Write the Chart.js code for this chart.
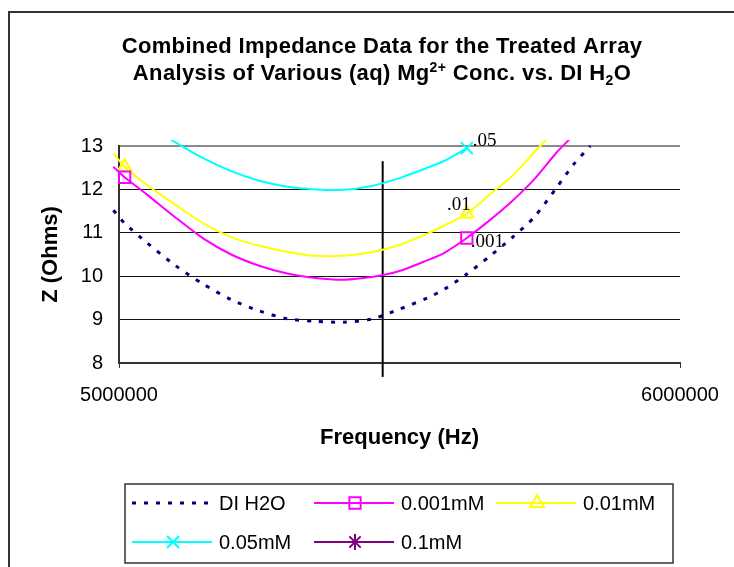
<!DOCTYPE html>
<html>
<head>
<meta charset="utf-8">
<title>Combined Impedance Data</title>
<script src="https://cdn.jsdelivr.net/npm/chart.js@4.4.1/dist/chart.umd.min.js"></script>
<style>
    html, body { margin: 0; padding: 0; background: #fff; }
    #wrap { width: 734px; height: 567px; }
</style>
</head>
<body>
<div id="wrap"><canvas id="impedanceChart" width="734" height="567"></canvas></div>
<script>
// Frequencies (Hz) shared by every series
const freqHz = [4990000, 5010000, 5050000, 5100000, 5150000, 5200000, 5250000, 5300000, 5350000, 5400000, 5450000,
    5500000, 5550000, 5580000, 5620000, 5660000, 5700000, 5740000, 5780000, 5810000, 5840000];

// Impedance Z (Ohms)
const diH2O = [11.52, 11.22, 10.77, 10.25, 9.82, 9.46, 9.20, 9.02, 8.96, 8.94, 9.01,
    9.24, 9.50, 9.70, 10.05, 10.45, 10.88, 11.36, 12.04, 12.57, 13.0];
const mM_0_001 = [12.52, 12.28, 11.88, 11.36, 10.87, 10.50, 10.24, 10.06, 9.96, 9.92, 9.98,
    10.12, 10.37, 10.54, 10.88, 11.28, 11.72, 12.23, 12.85, 13.25, 13.7];
const mM_0_01 = [12.83, 12.52, 12.10, 11.65, 11.22, 10.90, 10.70, 10.56, 10.47, 10.47, 10.55,
    10.72, 10.98, 11.17, 11.44, 11.87, 12.30, 12.85, 13.4, 13.85, 14.3];
const mM_0_05 = [14.0, 13.85, 13.5, 13.09, 12.72, 12.42, 12.20, 12.06, 12.00, 11.99, 12.08,
    12.26, 12.50, 12.66, 12.95, null, null, null, null, null, null];
// 0.1 mM sits above the plotted range
const mM_0_1 = [15.4, 15.2, 14.9, 14.5, 14.2, 13.95, 13.75, 13.6, 13.5, 13.48, 13.55,
    13.7, 13.95, 14.1, 14.4, 14.75, 15.1, 15.5, 15.9, 16.2, 16.5];

const seriesLabels = ['DI H2O', '0.001mM', '0.01mM', '0.05mM', '0.1mM'];

// vertical reference line
const refLineX = [5470000, 5470000];
const refLineY = [7.68, 12.65];

// text labels next to the marked points
const pointNotes = ['.001', '.01', '.05'];

const xTicks = [5000000, 6000000];
const yMin = 8, yMax = 13;

function toPoints(values) {
    return freqHz.map((f, i) => ({ x: f, y: values[i] }));
}

function markerRadii(indices, r) {
    return freqHz.map((f, i) => indices.includes(i) ? r : 0);
}

document.addEventListener('DOMContentLoaded', function() {
    const ctx = document.getElementById('impedanceChart').getContext('2d');
    const clipArea = { left: 8, top: 6, right: 0, bottom: 0 };

    const datasets = [
        {
            label: seriesLabels[0],
            data: toPoints(diH2O),
            borderColor: '#000080',
            borderWidth: 3,
            borderDash: [4, 8],
            pointRadius: 0,
            legendMarker: null,
        },
        {
            label: seriesLabels[1],
            data: toPoints(mM_0_001),
            borderColor: '#ff00ff',
            borderWidth: 2,
            pointStyle: 'rect',
            pointRadius: markerRadii([1, 14], 8),
            pointBorderWidth: 2,
            legendMarker: 'rect', legendRadius: 8,
            note: pointNotes[0], noteAt: 14, noteDx: 4, noteDy: 9, noteAlign: 'left',
        },
        {
            label: seriesLabels[2],
            data: toPoints(mM_0_01),
            borderColor: '#ffff00',
            borderWidth: 2,
            pointStyle: 'triangle',
            pointRadius: markerRadii([1, 14], 7.5),
            pointBorderWidth: 2,
            legendMarker: 'triangle', legendRadius: 8,
            note: pointNotes[1], noteAt: 14, noteDx: 4, noteDy: -4, noteAlign: 'right',
        },
        {
            label: seriesLabels[3],
            data: toPoints(mM_0_05),
            borderColor: '#00ffff',
            borderWidth: 2,
            pointStyle: 'crossRot',
            pointRadius: markerRadii([14], 8.5),
            pointBorderWidth: 2,
            legendMarker: 'crossRot', legendRadius: 8.5,
            note: pointNotes[2], noteAt: 14, noteDx: 6, noteDy: -2, noteAlign: 'left',
        },
        {
            label: seriesLabels[4],
            data: toPoints(mM_0_1),
            borderColor: '#800080',
            borderWidth: 2,
            pointStyle: 'star',
            pointRadius: 0,
            pointBorderWidth: 2,
            legendMarker: 'star', legendRadius: 8,
        },
        {
            label: 'ref',
            data: refLineX.map((x, i) => ({ x: x, y: refLineY[i] })),
            borderColor: '#000',
            borderWidth: 2,
            pointRadius: 0,
            clip: false,
            hideInLegend: true,
        }
    ];

    datasets.forEach(ds => {
        ds.pointBackgroundColor = 'rgba(0,0,0,0)';
        ds.pointBorderColor = ds.borderColor;
        ds.pointHoverRadius = 0;
        ds.tension = 0.25;
        ds.fill = false;
        ds.spanGaps = false;
        if (ds.clip === undefined) ds.clip = clipArea;
    });

    // outer frame, title with sub/superscripts, notes and legend
    const decorPlugin = {
        id: 'decor',
        beforeDraw(chart) {
            const c = chart.ctx;
            c.save();
            c.fillStyle = '#fff';
            c.fillRect(0, 0, chart.width, chart.height);
            c.strokeStyle = '#333';
            c.lineWidth = 2;
            c.strokeRect(9, 12, 800, 700);
            c.restore();
        },
        afterDraw(chart) {
            const c = chart.ctx;
            const xs = chart.scales.x, ys = chart.scales.y;
            c.save();

            // title
            const big = 'bold 22px "Liberation Sans", Arial, sans-serif';
            const small = 'bold 14px "Liberation Sans", Arial, sans-serif';
            const lines = [
                { base: 53, parts: [{ t: 'Combined Impedance Data for the Treated Array', f: big, dy: 0 }] },
                { base: 80, parts: [
                    { t: 'Analysis of Various (aq) Mg', f: big, dy: 0 },
                    { t: '2+', f: small, dy: -8 },
                    { t: ' Conc. vs. DI H', f: big, dy: 0 },
                    { t: '2', f: small, dy: 5 },
                    { t: 'O', f: big, dy: 0 }
                ] }
            ];
            c.fillStyle = '#000';
            c.textBaseline = 'alphabetic';
            c.textAlign = 'left';
            if ('letterSpacing' in c) c.letterSpacing = '0.35px';
            lines.forEach(line => {
                let total = 0;
                line.parts.forEach(p => { c.font = p.f; p.w = c.measureText(p.t).width; total += p.w; });
                let x = 382 - total / 2;
                line.parts.forEach(p => { c.font = p.f; c.fillText(p.t, x, line.base + p.dy); x += p.w; });
            });
            if ('letterSpacing' in c) c.letterSpacing = '0px';

            // point notes
            c.font = '19px "Liberation Serif", "Times New Roman", serif';
            chart.data.datasets.forEach(ds => {
                if (!ds.note) return;
                const pt = ds.data[ds.noteAt];
                const px = xs.getPixelForValue(pt.x);
                const py = ys.getPixelForValue(pt.y);
                c.textAlign = ds.noteAlign;
                c.fillText(ds.note, px + ds.noteDx, py + ds.noteDy);
            });

            // legend
            c.strokeStyle = '#333';
            c.lineWidth = 1.5;
            c.strokeRect(125, 484, 548, 79);
            const cols = [132, 314, 496];
            const rows = [503, 542];
            const items = chart.data.datasets.filter(ds => !ds.hideInLegend);
            c.font = '20px "Liberation Sans", Arial, sans-serif';
            c.textAlign = 'left';
            c.textBaseline = 'middle';
            items.forEach((ds, i) => {
                const x0 = cols[i % 3];
                const y0 = rows[Math.floor(i / 3)];
                c.beginPath();
                c.setLineDash(ds.borderDash || []);
                c.strokeStyle = ds.borderColor;
                c.lineWidth = ds.borderWidth;
                c.moveTo(x0, y0);
                c.lineTo(x0 + 80, y0);
                c.stroke();
                c.setLineDash([]);
                if (ds.legendMarker) {
                    c.fillStyle = 'rgba(0,0,0,0)';
                    c.strokeStyle = ds.borderColor;
                    c.lineWidth = 2;
                    Chart.helpers.drawPoint(c, { pointStyle: ds.legendMarker, radius: ds.legendRadius, borderWidth: 2, rotation: 0 }, x0 + 41, y0);
                }
                c.fillStyle = '#000';
                c.fillText(ds.label, x0 + 87, y0 + 1);
            });
            c.restore();
        }
    };

    new Chart(ctx, {
        type: 'line',
        data: { datasets: datasets },
        plugins: [decorPlugin],
        options: {
            responsive: false,
            animation: false,
            events: [],
            layout: { padding: { left: 0, top: 146, right: 54, bottom: 0 } },
            plugins: {
                legend: { display: false },
                title: { display: false },
                tooltip: { enabled: false }
            },
            scales: {
                x: {
                    type: 'linear',
                    min: xTicks[0],
                    max: xTicks[1],
                    afterFit: scale => { scale.height = 204; },
                    afterBuildTicks: scale => { scale.ticks = xTicks.map(v => ({ value: v })); },
                    border: { display: true, color: '#333', width: 2 },
                    grid: { display: true, drawOnChartArea: false, drawTicks: true, tickLength: 5, color: '#333', lineWidth: 1 },
                    ticks: {
                        padding: 15,
                        color: '#000',
                        maxRotation: 0,
                        font: { family: '"Liberation Sans", Arial, sans-serif', size: 20 },
                        callback: v => String(v)
                    },
                    title: {
                        display: true,
                        text: 'Frequency (Hz)',
                        color: '#000',
                        padding: { top: 0, bottom: 116 },
                        font: { family: '"Liberation Sans", Arial, sans-serif', size: 22, weight: 'bold' }
                    }
                },
                y: {
                    min: yMin,
                    max: yMax,
                    afterFit: scale => { scale.width = 119; },
                    border: { display: true, color: '#333', width: 2 },
                    grid: {
                        drawTicks: false,
                        color: c => c.tick && c.tick.value === yMax ? '#8a8a8a' : '#111',
                        lineWidth: c => c.tick && c.tick.value === yMax ? 2 : 1
                    },
                    ticks: {
                        stepSize: 1,
                        padding: 16,
                        color: '#000',
                        font: { family: '"Liberation Sans", Arial, sans-serif', size: 20 }
                    },
                    title: {
                        display: true,
                        text: 'Z (Ohms)',
                        color: '#000',
                        padding: { top: 38, bottom: 0 },
                        font: { family: '"Liberation Sans", Arial, sans-serif', size: 22, weight: 'bold' }
                    }
                }
            }
        }
    });
});
</script>
</body>
</html>
